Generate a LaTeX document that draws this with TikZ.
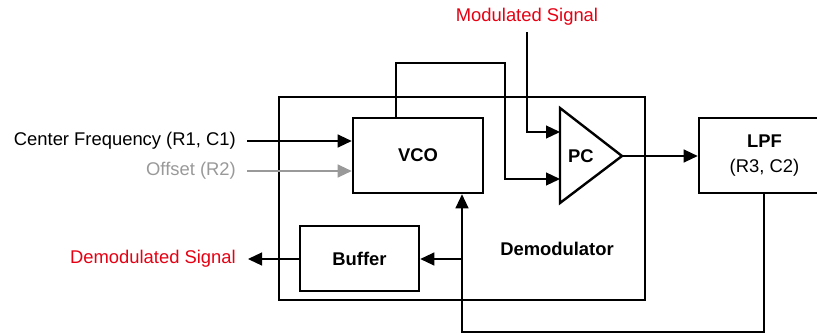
\documentclass[tikz,border=0pt]{standalone}
\usepackage{fontspec}
\setmainfont{Liberation Sans}
\usetikzlibrary{arrows.meta}
\definecolor{sigred}{HTML}{E60012}
\definecolor{offgray}{HTML}{999999}
\tikzset{
  blockbox/.style={draw, line width=2.6pt, minimum width=#1, inner sep=0pt, font=\fontsize{18.4}{25}\selectfont\bfseries},
  conn/.style={line width=1.2pt},
  arr/.style={conn, -{Triangle[length=14pt,width=13pt]}},
  lbl/.style={inner sep=0pt, font=\fontsize{18.4}{25}\selectfont},
  boldlbl/.style={inner sep=0pt, font=\fontsize{18.4}{25}\selectfont\bfseries},
}
\begin{document}
\begin{tikzpicture}[x=1pt,y=-1pt]
\useasboundingbox (0,0) rectangle (817,335);
% blocks
\node[blockbox=366pt, minimum height=203pt] (demod) at (462,198.5) {};
\node[blockbox=130pt, minimum height=75pt, fill=white] (vco) at (418,155.5) {VCO};
\node[blockbox=119pt, minimum height=65pt] (buffer) at (359.5,258.5) {Buffer};
\node[blockbox=131pt, minimum height=75pt, align=center, font=\fontsize{18.4}{25}\selectfont] (lpf) at (764.5,155.5) {\textbf{LPF}\\(R3, C2)};
\node[boldlbl] (demodlbl) at (557,249) {Demodulator};
% PC triangle
\coordinate (pctop) at (560,108);
\coordinate (pcbot) at (560,203);
\coordinate (pcout) at (622,156);
\coordinate (pcin1) at (560,132);
\coordinate (pcin2) at (560,179);
\draw[line width=2.4pt, line join=miter, fill=white] (pctop) -- (pcout) -- (pcbot) -- cycle;
\node[boldlbl] (pc) at (581,156) {PC};
% input labels
\coordinate (cfin) at (247,141);
\coordinate (offin) at (247,171);
\coordinate (demout) at (248,259);
\coordinate (modin) at (527,32);
\node[lbl, anchor=east] (cf) at (236,141) {Center Frequency (R1, C1)};
\node[lbl, anchor=east, text=offgray] (off) at (236,171) {Offset (R2)};
\node[lbl, anchor=east, text=sigred] (dem) at (236,259) {Demodulated Signal};
\node[lbl, text=sigred] (mod) at (527,17) {Modulated Signal};
% connectors
\draw[arr] (cfin) -- (vco.west |- cfin);
\draw[arr, draw=offgray, fill=offgray] (offin) -- (vco.west |- offin);
\draw[arr] (vco.north -| 396,0) -- (396,63) -- (505,63) -- (505,179) -- (pcin2);
\draw[arr] (modin) -- (527,132) -- (pcin1);
\draw[arr] (pcout) -- (lpf.west |- pcout);
\coordinate (fbx) at (462,332);
\draw[arr] (lpf.south -| 764,0) -- (764,332) -- (fbx) -- (vco.south -| fbx);
\draw[arr] (462,259) -- (buffer.east |- 0,259);
\draw[arr] (buffer.west |- demout) -- (demout);
\end{tikzpicture}
\end{document}
